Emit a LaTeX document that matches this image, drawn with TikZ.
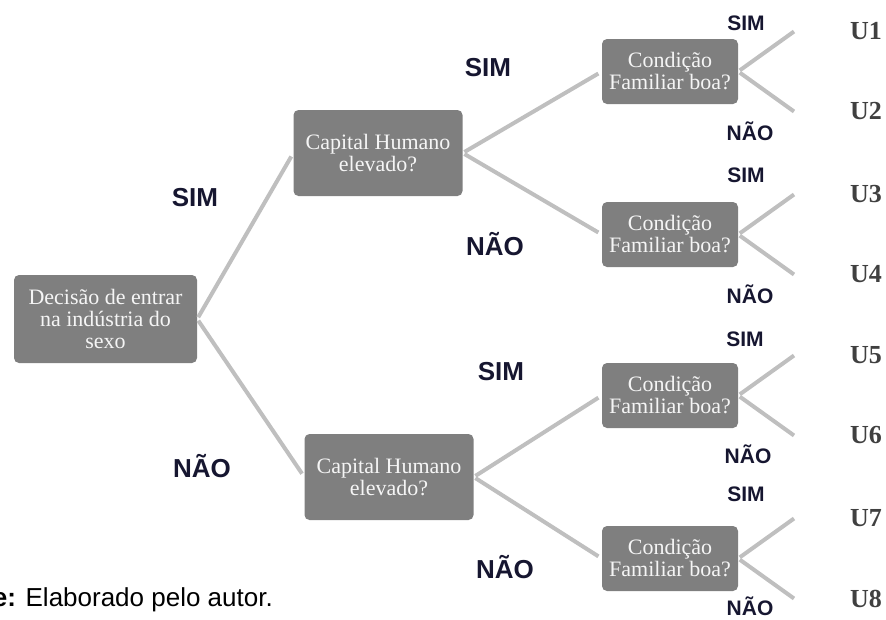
\documentclass[tikz,border=0pt]{standalone}
\usepackage{fontspec}
\setmainfont{Liberation Serif}
\newfontfamily\labelfont{Liberation Sans}
\usetikzlibrary{trees,positioning}
\definecolor{boxgray}{RGB}{127,127,127}
\definecolor{linegray}{RGB}{191,191,191}
\definecolor{boxtext}{RGB}{245,245,245}
\definecolor{answercol}{RGB}{22,22,48}
\definecolor{ugray}{RGB}{64,64,64}
\tikzset{
  decbox/.style={fill=boxgray, text=boxtext, rounded corners=5pt, align=center, inner sep=0pt, font=\fontsize{22}{22}\selectfont},
  rootbox/.style={decbox, minimum width=183pt, minimum height=88pt},
  capbox/.style={decbox, minimum width=169pt, minimum height=86pt},
  condbox/.style={decbox, minimum width=136pt, minimum height=65pt},
  answer/.style={text=answercol, inner sep=0pt, font=\labelfont\bfseries\fontsize{26}{26}\selectfont},
  smallanswer/.style={answer, font=\labelfont\bfseries\fontsize{21}{21}\selectfont},
  outcome/.style={text=ugray, inner sep=0pt, font=\bfseries\fontsize{26}{26}\selectfont}
}
\begin{document}
\begin{tikzpicture}[x=1pt, y=1pt, grow'=right,
    edge from parent/.style={draw=linegray, line width=4pt, shorten <=2pt, shorten >=4pt},
    edge from parent path={(\tikzparentnode.east) -- (\tikzchildnode.west)},
    level 1/.style={level distance=278pt, sibling distance=322pt},
    level 2/.style={level distance=286.5pt, sibling distance=163pt},
    level 3/.style={level distance=124pt, sibling distance=80pt,
      edge from parent/.append style={shorten >=0pt},
      edge from parent path={(\tikzparentnode.east) -- (\tikzchildnode)}}]

    \useasboundingbox (0,0) rectangle (886,-619);

    \node[rootbox] (root) at (105.5,-319) {Decisão de entrar\\na indústria do\\sexo}
      child[yshift=5pt] { node[capbox, xshift=-5.5pt] (cap1) {Capital Humano\\elevado?}
              child[xshift=5.5pt] { node[condbox] (cond1) {Condição\\Familiar boa?}
                      child { coordinate (e1) }
                      child { coordinate (e2) }
                    }
              child[xshift=5.5pt] { node[condbox] (cond2) {Condição\\Familiar boa?}
                      child { coordinate (e3) }
                      child { coordinate (e4) }
                    }
            }
      child[yshift=3pt] { node[capbox, xshift=5.5pt] (cap2) {Capital Humano\\elevado?}
              child[xshift=-5.5pt] { node[condbox] (cond3) {Condição\\Familiar boa?}
                      child { coordinate (e5) }
                      child { coordinate (e6) }
                    }
              child[xshift=-5.5pt] { node[condbox] (cond4) {Condição\\Familiar boa?}
                      child { coordinate (e7) }
                      child { coordinate (e8) }
                    }
            };

    \node[answer] (yes0) at (195,-198) {SIM};
    \node[answer] (no0) at (202,-466) {NÃO};
    \node[answer] (yes1) at (488,-68) {SIM};
    \node[answer] (no1) at (495,-244) {NÃO};
    \node[answer] (yes2) at (501,-372) {SIM};
    \node[answer] (no2) at (505,-567) {NÃO};

    \node[smallanswer] (yes11) at (746,-23) {SIM};
    \node[smallanswer] (no11) at (750,-131) {NÃO};
    \node[smallanswer] (yes12) at (746,-175) {SIM};
    \node[smallanswer] (no12) at (750,-294) {NÃO};
    \node[smallanswer] (yes21) at (745,-339) {SIM};
    \node[smallanswer] (no21) at (748,-454) {NÃO};
    \node[smallanswer] (yes22) at (746,-494) {SIM};
    \node[smallanswer] (no22) at (750,-606) {NÃO};

    \foreach \i in {1,...,8}
      \node[outcome, right=56pt of e\i] (u\i) {U\i};

    \node[anchor=base west, inner sep=0pt, font=\labelfont\fontsize{26}{26}\selectfont] (source) at (-7.3,-606) {\textbf{e:} Elaborado pelo autor.};
\end{tikzpicture}
\end{document}
